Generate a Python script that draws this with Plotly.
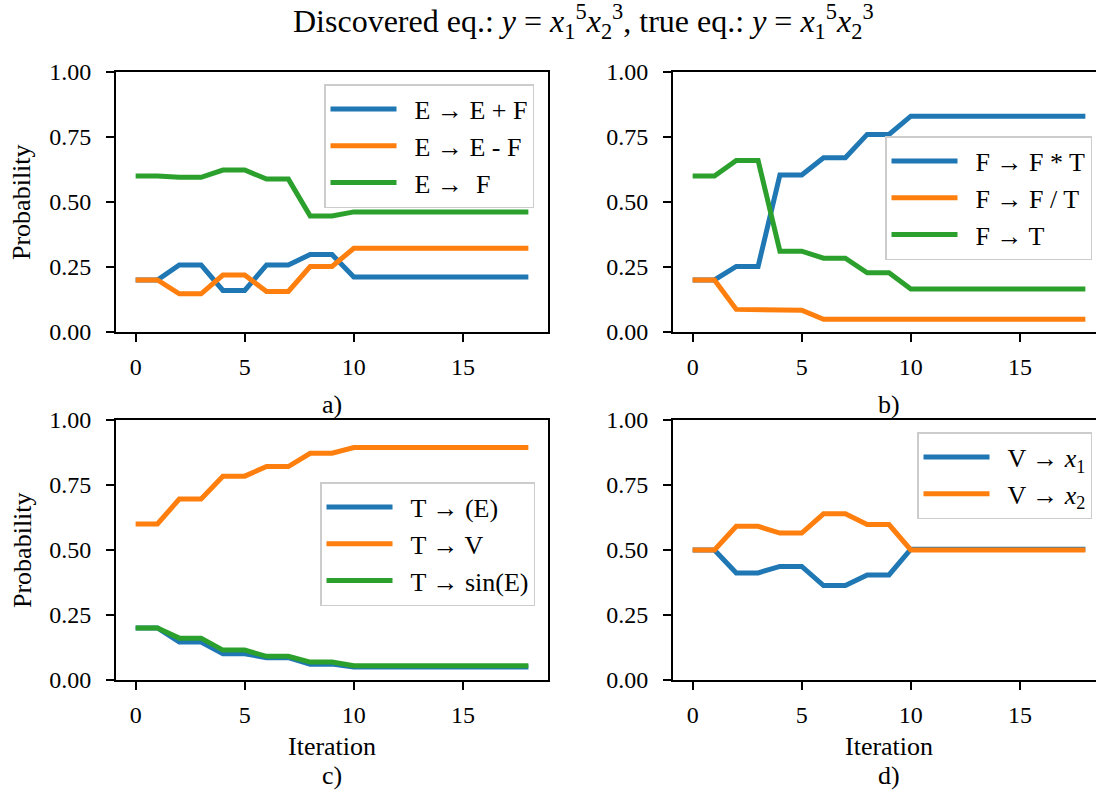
import plotly.graph_objects as go

# ---------------- data ----------------
iterations = list(range(19))

# panel a)
a_e_plus_f  = [0.20, 0.20, 0.258, 0.258, 0.160, 0.160, 0.258, 0.258, 0.298, 0.298] + [0.212] * 9
a_e_minus_f = [0.20, 0.20, 0.147, 0.147, 0.219, 0.219, 0.156, 0.156, 0.252, 0.252] + [0.322] * 9
a_e_f       = [0.60, 0.60, 0.595, 0.595, 0.623, 0.623, 0.588, 0.588, 0.446, 0.446] + [0.462] * 9

# panel b)
b_f_mul_t = [0.20, 0.20, 0.252, 0.252, 0.604, 0.604, 0.670, 0.670, 0.760, 0.760] + [0.830] * 9
b_f_div_t = [0.20, 0.20, 0.087, 0.087, 0.084, 0.084, 0.049, 0.049, 0.049, 0.049] + [0.049] * 9
b_f_t     = [0.60, 0.60, 0.660, 0.660, 0.311, 0.311, 0.284, 0.284, 0.228, 0.228] + [0.165] * 9

# panel c)
c_t_paren = [0.20, 0.20, 0.146, 0.146, 0.101, 0.101, 0.086, 0.086, 0.061, 0.061] + [0.050] * 9
c_t_v     = [0.60, 0.60, 0.696, 0.696, 0.784, 0.784, 0.821, 0.821, 0.872, 0.872] + [0.894] * 9
c_t_sin   = [0.20, 0.20, 0.161, 0.161, 0.115, 0.115, 0.091, 0.091, 0.069, 0.069] + [0.055] * 9

# panel d)
d_v_x1 = [0.50, 0.50, 0.412, 0.412, 0.437, 0.437, 0.363, 0.363, 0.404, 0.404] + [0.503] * 9
d_v_x2 = [0.50, 0.50, 0.591, 0.591, 0.565, 0.565, 0.639, 0.639, 0.598, 0.598] + [0.500] * 9

labels_a = ["E → E + F", "E → E - F", "E →  F"]
labels_b = ["F → F * T", "F → F / T", "F → T"]
labels_c = ["T → (E)", "T → V", "T → sin(E)"]
labels_d = ["V → <i>x</i><sub>1</sub>", "V → <i>x</i><sub>2</sub>"]

y_ticks = [0, 0.25, 0.5, 0.75, 1.0]
x_ticks = [0, 5, 10, 15]

title_text = ("Discovered eq.: <i>y</i> = <i>x</i><sub>1</sub><sup>5</sup><i>x</i><sub>2</sub><sup>3</sup>, "
              "true eq.: <i>y</i> = <i>x</i><sub>1</sub><sup>5</sup><i>x</i><sub>2</sub><sup>3</sup>")

# ---------------- style ----------------
W, H = 1096, 794
FONT = "Liberation Serif"
COLORS = ["#1f77b4", "#ff7f0e", "#2ca02c"]
LW = 5
PAD = "\u2002"  # small gap between legend line sample and its text


def px(x):
    return x / W


def py(y):
    return 1 - y / H


fig = go.Figure()

panels = [
    ("x", "y", "legend", [a_e_plus_f, a_e_minus_f, a_e_f], labels_a),
    ("x2", "y2", "legend2", [b_f_mul_t, b_f_div_t, b_f_t], labels_b),
    ("x3", "y3", "legend3", [c_t_paren, c_t_v, c_t_sin], labels_c),
    ("x4", "y4", "legend4", [d_v_x1, d_v_x2], labels_d),
]

for xa, ya, lg, series, names in panels:
    for i, (vals, nm) in enumerate(zip(series, names)):
        fig.add_trace(go.Scatter(
            x=iterations, y=vals, mode="lines", name=PAD + nm,
            line=dict(color=COLORS[i], width=LW),
            xaxis=xa, yaxis=ya, legend=lg,
        ))

# axes domains (pixels measured from reference)
left_dom = [px(116), px(548)]
right_dom = [px(673), 1.0]
top_dom = [py(332), py(72)]
bot_dom = [py(680), py(420)]

px_per_unit = 432 / 19.8
right_max = -0.9 + (W - 673) / px_per_unit

common_x = dict(
    showgrid=False, zeroline=False, showline=True, linecolor="black", linewidth=2,
    ticks="outside", ticklen=8, tickwidth=2, tickcolor="black",
    tickvals=x_ticks, tickfont=dict(family=FONT, size=24, color="black"),
    mirror=True, ticklabelstandoff=4,
)
common_y = dict(
    showgrid=False, zeroline=False, showline=True, linecolor="black", linewidth=2,
    ticks="outside", ticklen=8, tickwidth=2, tickcolor="black",
    tickvals=y_ticks, tickformat=".2f", range=[0, 1],
    tickfont=dict(family=FONT, size=24, color="black"), ticklabelstandoff=10,
)

fig.update_layout(
    xaxis=dict(common_x, domain=left_dom, range=[-0.9, 18.9], anchor="y"),
    yaxis=dict(common_y, domain=top_dom, anchor="x", mirror=True),
    xaxis2=dict(common_x, domain=right_dom, range=[-0.9, right_max], anchor="y2"),
    yaxis2=dict(common_y, domain=top_dom, anchor="x2", mirror=False),
    xaxis3=dict(common_x, domain=left_dom, range=[-0.9, 18.9], anchor="y3"),
    yaxis3=dict(common_y, domain=bot_dom, anchor="x3", mirror=True),
    xaxis4=dict(common_x, domain=right_dom, range=[-0.9, right_max], anchor="y4"),
    yaxis4=dict(common_y, domain=bot_dom, anchor="x4", mirror=False),
)

leg_common = dict(
    bgcolor="rgba(255,255,255,0.8)", bordercolor="#cccccc", borderwidth=1.5,
    font=dict(family=FONT, size=26, color="black"),
    xanchor="right", yanchor="top", itemwidth=66, tracegroupgap=0,
)
fig.update_layout(
    legend=dict(leg_common, x=px(534), y=py(84)),
    legend2=dict(leg_common, x=px(1092), y=py(136)),
    legend3=dict(leg_common, x=px(535), y=py(482)),
    legend4=dict(leg_common, x=px(1092), y=py(432)),
)

ann = []
text_font = dict(family=FONT, size=26, color="black")
# title
ann.append(dict(text=title_text, x=px(583), y=py(22), xref="paper", yref="paper",
                showarrow=False, xanchor="center", yanchor="middle",
                font=dict(family=FONT, size=32, color="black")))
# y labels
for yc in (202, 550):
    ann.append(dict(text="Probability", x=px(22), y=py(yc), xref="paper", yref="paper",
                    showarrow=False, textangle=-90, xanchor="center", yanchor="middle",
                    font=text_font))
# x labels
for xc in (332, 889):
    ann.append(dict(text="Iteration", x=px(xc), y=py(746), xref="paper", yref="paper",
                    showarrow=False, xanchor="center", yanchor="middle", font=text_font))
# panel tags
for txt, xc, yc in (("a)", 332, 404), ("b)", 889, 404), ("c)", 332, 775), ("d)", 889, 775)):
    ann.append(dict(text=txt, x=px(xc), y=py(yc), xref="paper", yref="paper",
                    showarrow=False, xanchor="center", yanchor="middle", font=text_font))

fig.update_layout(
    annotations=ann,
    width=W, height=H,
    margin=dict(l=0, r=0, t=0, b=0, autoexpand=False),
    paper_bgcolor="white", plot_bgcolor="white",
    showlegend=True,
)

fig.write_html("out.html")
